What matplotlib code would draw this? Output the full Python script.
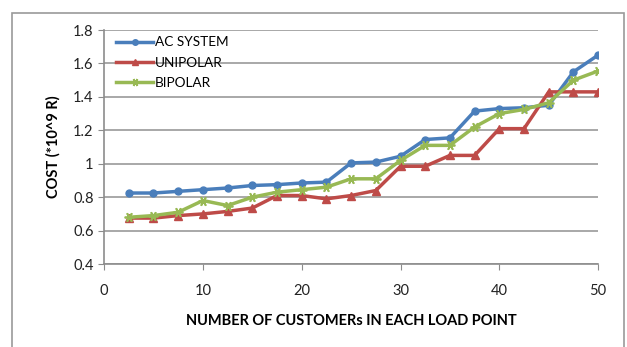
import matplotlib.pyplot as plt
from matplotlib.patches import Rectangle

customers = [2.5, 5, 7.5, 10, 12.5, 15, 17.5, 20, 22.5, 25,
             27.5, 30, 32.5, 35, 37.5, 40, 42.5, 45, 47.5, 50]
ac_system = [0.825, 0.825, 0.835, 0.845, 0.855, 0.87, 0.875, 0.885, 0.89, 1.005,
             1.01, 1.045, 1.145, 1.155, 1.315, 1.33, 1.335, 1.35, 1.55, 1.65]
unipolar = [0.675, 0.675, 0.69, 0.70, 0.715, 0.735, 0.81, 0.81, 0.79, 0.81,
            0.84, 0.985, 0.985, 1.05, 1.05, 1.21, 1.21, 1.43, 1.43, 1.43]
bipolar = [0.68, 0.69, 0.71, 0.78, 0.75, 0.80, 0.83, 0.845, 0.86, 0.91,
           0.91, 1.02, 1.11, 1.11, 1.22, 1.30, 1.325, 1.365, 1.50, 1.555]
y_ticks = [0.4, 0.6, 0.8, 1.0, 1.2, 1.4, 1.6, 1.8]
y_tick_labels = ["0.4", "0.6", "0.8", "1", "1.2", "1.4", "1.6", "1.8"]
x_ticks = [0, 10, 20, 30, 40, 50]

plt.rcParams["font.family"] = ["Lato", "DejaVu Sans"]
fig = plt.figure(figsize=(6.27, 3.47), dpi=100)
ax = fig.add_axes([0.166, 0.239, 0.788, 0.6745])

# chart-area border
fig.patches.append(Rectangle((12 / 627, -0.1), 612 / 627, 1.1 - 13 / 347,
                             transform=fig.transFigure, fill=False,
                             edgecolor="#9a9a9a", linewidth=1.2))

ax.plot(customers, ac_system, color="#4A7EBB", marker="o", markersize=5,
        linewidth=2.5, label="AC SYSTEM")
ax.plot(customers, unipolar, color="#BE4B48", marker="^", markersize=6,
        linewidth=2.5, label="UNIPOLAR")
ax.plot(customers, bipolar, color="#98B954", marker=(6, 2, 90), markersize=7,
        markeredgewidth=1.3, linewidth=2.5, label="BIPOLAR")

ax.set_xlim(0, 50)
ax.set_ylim(0.4, 1.8)
ax.set_xticks(x_ticks)
ax.set_yticks(y_ticks)
ax.set_yticklabels(y_tick_labels)
ax.tick_params(axis="both", labelsize=10.5, color="#8c8c8c", length=4,
               labelcolor="#222222")
ax.tick_params(axis="x", pad=10)
ax.grid(axis="y", color="#9a9a9a", linewidth=1.2)
ax.set_axisbelow(True)
for side in ["top", "right"]:
    ax.spines[side].set_visible(False)
for side in ["left", "bottom"]:
    ax.spines[side].set_color("#8c8c8c")
    ax.spines[side].set_linewidth(1.2)

ax.set_ylabel("COST (*10^9 R)", fontsize=10.5, fontweight="bold", labelpad=9)
ax.set_xlabel("NUMBER OF CUSTOMERs IN EACH LOAD POINT", fontsize=10.5,
              fontweight="bold", labelpad=12)

ax.legend(loc="upper left", bbox_to_anchor=(0.0, 1.025), frameon=False,
          fontsize=9.8, handlelength=2.7, handletextpad=0.15, labelspacing=0.6,
          markerscale=0.8)

fig.savefig("out.png", dpi=100)
